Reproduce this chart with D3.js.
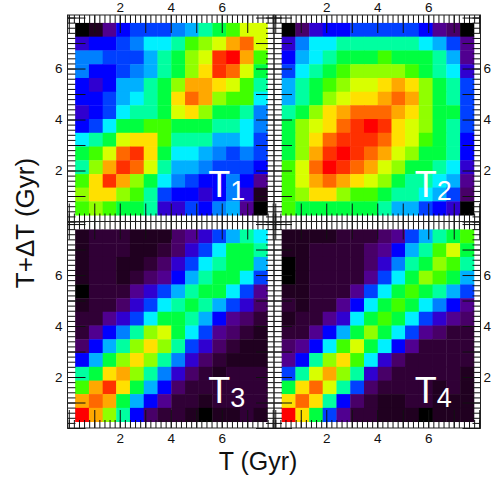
<!DOCTYPE html>
<html>
<head>
<meta charset="utf-8">
<script src="https://cdn.jsdelivr.net/npm/d3@7"></script>
<style>
  body { margin: 0; background: #fff; }
  text { font-family: "Liberation Sans", Arial, Helvetica, sans-serif; }
</style>
</head>
<body>
<div class="chart"></div>
<script>
var svgWidth = 503;
var svgHeight = 497;

// age bin edges (Gyr), same on both axes
var binEdges = [0.25, 0.79, 1.33, 1.86, 2.40, 2.94, 3.48, 4.02, 4.56, 5.09, 5.63, 6.17, 6.71, 7.25, 7.79];
var tickLabels = [2, 4, 6];
var panelNames = ["1", "2", "3", "4"];

// colour level of each cell (0 = black ... 20 = red), rows from top (old) to bottom (young)
var t1 = [
  [0, 1, 4, 6, 7, 7, 7, 8, 9, 11, 12, 13, 15, 15],
  [5, 6, 6, 7, 8, 10, 10, 11, 13, 14, 15, 17, 18, 15],
  [8, 8, 7, 7, 7, 9, 11, 12, 14, 15, 19, 20, 17, 13],
  [8, 6, 6, 7, 8, 9, 11, 12, 14, 16, 19, 18, 15, 12],
  [6, 5, 6, 9, 9, 11, 12, 14, 17, 17, 16, 15, 13, 11],
  [6, 6, 7, 9, 10, 11, 12, 16, 18, 17, 14, 13, 13, 10],
  [5, 6, 7, 10, 11, 11, 12, 15, 16, 14, 12, 12, 11, 8],
  [6, 7, 10, 12, 12, 13, 13, 12, 12, 12, 11, 11, 10, 8],
  [10, 11, 12, 15, 16, 16, 13, 11, 11, 11, 9, 9, 10, 7],
  [12, 13, 15, 18, 19, 16, 12, 10, 10, 9, 8, 7, 8, 7],
  [11, 14, 17, 19, 18, 15, 11, 9, 9, 8, 7, 7, 7, 6],
  [13, 16, 19, 17, 14, 12, 10, 8, 7, 6, 6, 8, 6, 4],
  [14, 16, 16, 14, 13, 11, 7, 6, 6, 5, 6, 8, 5, 1],
  [13, 14, 13, 12, 12, 11, 5, 5, 7, 6, 8, 9, 4, 0]
];

var t2 = [
  [0, 3, 5, 6, 6, 7, 7, 7, 7, 7, 6, 4, 3, 0],
  [5, 8, 10, 10, 11, 11, 11, 11, 11, 11, 10, 9, 7, 4],
  [6, 9, 10, 11, 12, 12, 12, 13, 12, 12, 12, 11, 9, 4],
  [7, 10, 11, 12, 13, 14, 14, 14, 14, 13, 12, 11, 10, 5],
  [9, 11, 12, 13, 14, 15, 15, 16, 17, 16, 14, 12, 11, 7],
  [9, 11, 12, 14, 15, 16, 16, 17, 18, 17, 14, 12, 11, 7],
  [11, 12, 14, 16, 17, 18, 18, 18, 17, 16, 14, 12, 12, 7],
  [12, 14, 15, 16, 18, 19, 20, 19, 16, 15, 14, 12, 11, 7],
  [12, 14, 16, 18, 19, 19, 19, 18, 16, 15, 13, 12, 11, 6],
  [12, 14, 17, 19, 20, 19, 18, 17, 15, 14, 12, 12, 11, 6],
  [13, 15, 18, 20, 19, 18, 17, 15, 14, 12, 12, 11, 10, 5],
  [13, 15, 17, 18, 17, 16, 15, 14, 12, 11, 11, 10, 9, 4],
  [13, 14, 16, 16, 14, 13, 13, 12, 11, 11, 10, 9, 7, 3],
  [13, 12, 12, 12, 12, 12, 12, 11, 9, 9, 7, 6, 5, 0]
];

var t3 = [
  [1, 2, 2, 2, 1, 1, 1, 3, 4, 5, 7, 9, 11, 10],
  [1, 2, 2, 2, 1, 1, 2, 3, 5, 7, 10, 12, 12, 11],
  [1, 2, 2, 1, 1, 2, 3, 5, 7, 10, 11, 12, 12, 9],
  [1, 2, 2, 1, 2, 3, 4, 6, 9, 11, 12, 12, 10, 7],
  [0, 2, 2, 2, 4, 5, 7, 9, 11, 12, 12, 10, 7, 4],
  [1, 2, 2, 3, 5, 7, 10, 11, 12, 11, 9, 7, 5, 3],
  [2, 2, 4, 5, 7, 10, 12, 12, 11, 9, 6, 4, 3, 2],
  [2, 4, 6, 8, 11, 14, 15, 12, 10, 7, 4, 3, 2, 1],
  [3, 6, 9, 11, 14, 16, 14, 11, 7, 5, 3, 2, 1, 1],
  [6, 9, 12, 14, 16, 14, 11, 8, 5, 3, 2, 1, 1, 1],
  [11, 12, 16, 17, 14, 11, 8, 5, 3, 2, 1, 2, 2, 2],
  [13, 17, 19, 16, 12, 9, 6, 3, 2, 2, 2, 2, 2, 2],
  [17, 18, 17, 12, 9, 6, 4, 2, 2, 1, 2, 2, 2, 2],
  [20, 17, 14, 11, 6, 3, 2, 2, 1, 0, 1, 1, 2, 1]
];

var t4 = [
  [1, 1, 1, 1, 2, 2, 2, 3, 4, 7, 9, 11, 12, 13],
  [1, 1, 2, 2, 2, 2, 3, 4, 6, 9, 11, 13, 15, 12],
  [0, 1, 2, 2, 2, 2, 3, 5, 8, 11, 12, 14, 13, 11],
  [0, 1, 2, 2, 2, 2, 4, 7, 10, 12, 14, 13, 12, 9],
  [1, 1, 2, 2, 2, 4, 7, 10, 12, 13, 12, 11, 9, 7],
  [2, 1, 2, 2, 4, 6, 10, 12, 13, 12, 10, 8, 6, 4],
  [1, 2, 2, 4, 5, 10, 12, 13, 12, 10, 7, 5, 4, 3],
  [2, 2, 4, 6, 9, 12, 14, 12, 10, 7, 4, 3, 2, 2],
  [3, 4, 6, 10, 13, 15, 12, 10, 6, 4, 2, 2, 2, 2],
  [4, 6, 11, 14, 16, 13, 10, 5, 3, 2, 2, 2, 2, 2],
  [7, 11, 15, 17, 14, 11, 5, 3, 2, 2, 2, 2, 2, 1],
  [12, 16, 18, 15, 11, 7, 3, 2, 2, 2, 2, 1, 2, 1],
  [16, 18, 16, 11, 6, 3, 2, 1, 1, 2, 2, 1, 1, 1],
  [20, 16, 12, 7, 4, 2, 2, 1, 1, 1, 0, 1, 1, 1]
];

// rainbow + black colour table
var colorStops = ["#000000", "#200020", "#300036", "#480068", "#500090", "#3000d0",
  "#0000ff", "#0040ff", "#0080ff", "#00b0ff", "#00f0ff", "#00ffa0", "#00ff40",
  "#40ff00", "#90ff00", "#d8ff00", "#ffe000", "#ffa800", "#ff6800", "#ff3000", "#ff0000"];

var color = d3.scaleLinear()
  .domain(d3.range(colorStops.length))
  .range(colorStops)
  .interpolate(d3.interpolateRgb)
  .clamp(true);

var panelSize = 206.5;
var panels = [
  { grid: t1, name: panelNames[0], left: 67.5, top: 15, col: 0, row: 0 },
  { grid: t2, name: panelNames[1], left: 274, top: 15, col: 1, row: 0 },
  { grid: t3, name: panelNames[2], left: 67.5, top: 221.5, col: 0, row: 1 },
  { grid: t4, name: panelNames[3], left: 274, top: 221.5, col: 1, row: 1 }
];

var svg = d3.select(".chart")
  .append("svg")
  .attr("width", svgWidth)
  .attr("height", svgHeight);

var xScale = d3.scaleLinear().domain([-0.05, 8.05]).range([0, panelSize]);
var yScale = d3.scaleLinear().domain([0, 8.1]).range([panelSize, 0]);

var minorTicks = d3.range(0, 8.01, 0.2);
var majorTicks = d3.range(0, 9, 1);

panels.forEach(function(p) {
  var g = svg.append("g")
    .attr("transform", `translate(${p.left}, ${p.top})`);

  // heat map cells
  var cells = [];
  p.grid.forEach(function(rowVals, r) {
    var yi = p.grid.length - 1 - r;
    rowVals.forEach(function(v, c) {
      cells.push({ xi: c, yi: yi, v: v });
    });
  });

  g.append("g").selectAll("rect")
    .data(cells)
    .enter()
    .append("rect")
    .attr("x", d => xScale(binEdges[d.xi]))
    .attr("y", d => yScale(binEdges[d.yi + 1]))
    .attr("width", d => xScale(binEdges[d.xi + 1]) - xScale(binEdges[d.xi]) + 0.4)
    .attr("height", d => yScale(binEdges[d.yi]) - yScale(binEdges[d.yi + 1]) + 0.4)
    .attr("fill", d => color(d.v));

  // inward ticks on all four sides
  function ticks(axisFn, vals, size, transform) {
    var a = g.append("g")
      .attr("class", "ticks")
      .attr("transform", transform)
      .call(axisFn.tickValues(vals).tickSize(-size).tickFormat(""));
    a.select(".domain").remove();
    a.selectAll("line").attr("stroke", "#111").attr("stroke-width", 1);
  }
  [[minorTicks, 8], [majorTicks, 18]].forEach(function(t) {
    ticks(d3.axisBottom(xScale), t[0], t[1], `translate(0, ${panelSize})`);
    ticks(d3.axisTop(xScale), t[0], t[1], "translate(0, 0)");
    ticks(d3.axisLeft(yScale), t[0], t[1], "translate(0, 0)");
    ticks(d3.axisRight(yScale), t[0], t[1], `translate(${panelSize}, 0)`);
  });

  // frame
  g.append("rect")
    .attr("width", panelSize)
    .attr("height", panelSize)
    .attr("fill", "none")
    .attr("stroke", "#222")
    .attr("stroke-width", 1);

  // tick labels on the outer sides only
  function labels(axis, transform) {
    var a = g.append("g")
      .attr("transform", transform)
      .call(axis.tickValues(tickLabels).tickSize(0));
    a.select(".domain").remove();
    a.selectAll("text")
      .attr("font-size", "13.5px")
      .attr("font-family", "Liberation Sans, Arial, sans-serif")
      .attr("fill", "#111");
  }
  if (p.row === 0) labels(d3.axisTop(xScale).tickPadding(3), "translate(0, 0)");
  if (p.row === 1) labels(d3.axisBottom(xScale).tickPadding(5), `translate(0, ${panelSize})`);
  if (p.col === 0) labels(d3.axisLeft(yScale).tickPadding(5), "translate(0, 0)");
  if (p.col === 1) labels(d3.axisRight(yScale).tickPadding(3), `translate(${panelSize}, 0)`);

  // panel name
  var lab = g.append("text")
    .attr("x", xScale(binEdges[0]) + 133)
    .attr("y", yScale(binEdges[binEdges.length - 1]) + 174)
    .attr("fill", "#fff")
    .attr("font-size", "36px")
    .text("T");
  lab.append("tspan")
    .attr("font-size", "27px")
    .attr("dy", 3.5)
    .text(p.name);
});

// axis titles
svg.append("text")
  .attr("x", 258)
  .attr("y", 470)
  .attr("text-anchor", "middle")
  .attr("font-size", "25px")
  .attr("fill", "#111")
  .text("T (Gyr)");

svg.append("text")
  .attr("transform", "translate(34, 223) rotate(-90)")
  .attr("text-anchor", "middle")
  .attr("font-size", "26px")
  .attr("fill", "#111")
  .text("T+\u0394T (Gyr)");
</script>
</body>
</html>
